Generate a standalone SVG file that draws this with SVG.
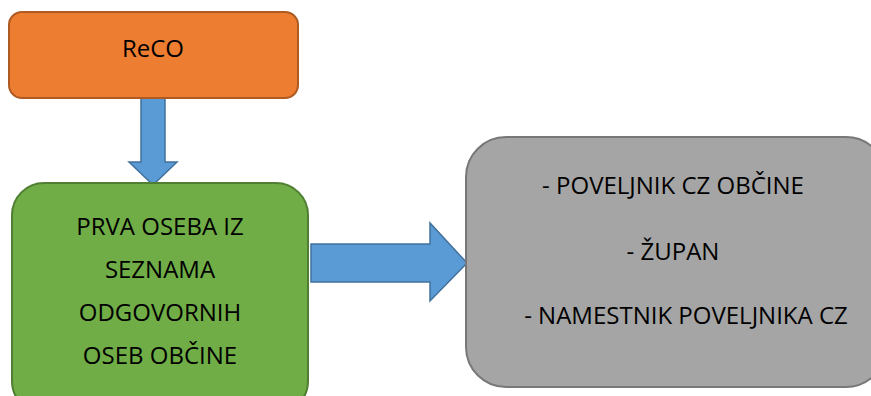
<svg xmlns="http://www.w3.org/2000/svg" width="871" height="396" viewBox="0 0 871 396">
<style>
.t{font-family:"Open Sans","Liberation Sans",sans-serif;font-size:24px;fill:#000;}
.arrow{fill:#5B9BD5;stroke:#41719C;stroke-width:1.5;}
</style>
<rect width="871" height="396" fill="#fff"/>
<g id="connectors">
<path class="arrow" d="M141,98 H165 V162 H177 L153,185 L129,162 H141 Z"/>
<path class="arrow" d="M311,244 H430 V223 L467,263 L430,301 V282 H311 Z"/>
</g>
<g id="reco">
<rect x="9" y="12" width="289" height="86" rx="13" fill="#ED7D31" stroke="#AE5A21" stroke-width="2"/>
<text class="t" x="153" y="57" text-anchor="middle">ReCO</text>
</g>
<g id="prva">
<rect x="12" y="183" width="296" height="230" rx="32" fill="#70AD47" stroke="#507E32" stroke-width="2"/>
<text class="t" x="160" y="235" text-anchor="middle">PRVA OSEBA IZ</text>
<text class="t" x="160" y="278" text-anchor="middle">SEZNAMA</text>
<text class="t" x="160" y="321" text-anchor="middle">ODGOVORNIH</text>
<text class="t" x="160" y="364" text-anchor="middle">OSEB OBČINE</text>
</g>
<g id="osebe">
<rect x="466" y="137" width="420" height="250" rx="40" fill="#A5A5A5" stroke="#787878" stroke-width="2"/>
<text class="t" x="673" y="194" text-anchor="middle">- POVELJNIK CZ OBČINE</text>
<text class="t" x="673" y="260" text-anchor="middle">- ŽUPAN</text>
<text class="t" x="686" y="324" text-anchor="middle">- NAMESTNIK POVELJNIKA CZ</text>
</g>
</svg>
